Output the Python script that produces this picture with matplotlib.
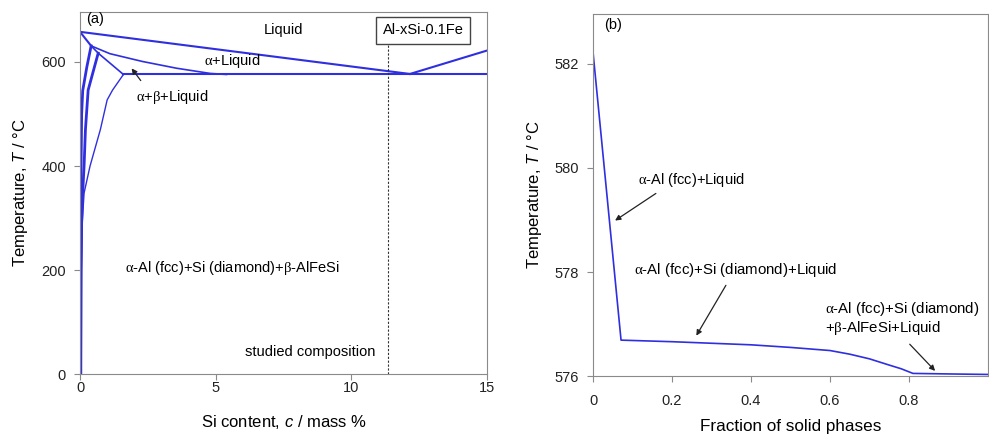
import matplotlib.pyplot as plt

plt.rcParams['font.family'] = ['Liberation Sans', 'DejaVu Sans']
plt.rcParams['mathtext.fontset'] = 'custom'
plt.rcParams['mathtext.rm'] = 'Liberation Serif'
plt.rcParams['mathtext.it'] = 'Liberation Sans:italic'
plt.rcParams['mathtext.bf'] = 'Liberation Sans:bold'

# (a) isopleth Al-xSi-0.1Fe
liq_x = [0, 12.16]
liq_T = [658, 577]
hyper_x = [12.16, 15]
hyper_T = [577, 622]
eut_x = [1.6, 15]
eut_T = [576, 576]
sol_x = [0, 0.41]
sol_T = [658, 631]
aL_x = [0.41, 1.1, 2.3, 3.56, 4.8, 5.4]
aL_T = [631, 616, 601, 588, 578, 576]
abL_x = [0.41, 0.67, 1.6]
abL_T = [631, 617, 576]
s1_x = [0.41, 0.25, 0.1, 0.06, 0.04, 0.03, 0.02]
s1_T = [631, 590, 545, 500, 400, 200, 0]
s2_x = [0.67, 0.3, 0.2, 0.15, 0.1, 0.06, 0.04, 0.03]
s2_T = [617, 546, 470, 400, 350, 290, 200, 0]
s3_x = [1.6, 1.2, 1.0, 0.75, 0.37, 0.15, 0.08, 0.05, 0.04]
s3_T = [576, 546, 527, 470, 400, 348, 290, 200, 0]
studied_x = 11.35

# (b) solidification path
frac = [0, 0.071, 0.2, 0.3, 0.4, 0.5, 0.6, 0.65, 0.7, 0.75, 0.78, 0.81, 0.9, 1.0]
temp = [582.23, 576.69, 576.66, 576.63, 576.6, 576.55, 576.49, 576.42,
        576.33, 576.21, 576.14, 576.05, 576.04, 576.03]

blue = '#2f2fe0'
grey = '#8a8a8a'
A = r'$\mathrm{\alpha}$'
B = r'$\mathrm{\beta}$'

fig = plt.figure(figsize=(9.89, 4.34), dpi=100)
ax1 = fig.add_axes([0.0809, 0.1382, 0.4115, 0.834])
ax2 = fig.add_axes([0.5996, 0.1336, 0.3994, 0.834])

for ax in (ax1, ax2):
    for s in ax.spines.values():
        s.set_color(grey)
    ax.tick_params(colors=grey, labelcolor='#222222', labelsize=10.5, length=4, pad=6)
ax1.tick_params(axis='x', pad=1)
ax2.tick_params(axis='x', pad=9)

# panel a
ax1.plot(liq_x, liq_T, color=blue, lw=1.5)
ax1.plot(hyper_x, hyper_T, color=blue, lw=1.5)
ax1.plot(eut_x, eut_T, color=blue, lw=1.5)
ax1.plot(sol_x, sol_T, color=blue, lw=1.5)
ax1.plot(aL_x, aL_T, color=blue, lw=1.2)
ax1.plot(abL_x, abL_T, color=blue, lw=1.2)
ax1.plot(s1_x, s1_T, color=blue, lw=2.0)
ax1.plot(s2_x, s2_T, color=blue, lw=2.0)
ax1.plot(s3_x, s3_T, color=blue, lw=1.0)
ax1.plot([studied_x, studied_x], [0, 633], color='#333333', lw=0.8, ls=(0, (2, 1.5)))

ax1.set_xlim(0, 15)
ax1.set_ylim(0, 696)
ax1.set_xticks([0, 5, 10, 15])
ax1.set_yticks([0, 200, 400, 600])
ax1.set_xlabel('Si content, $c$ / mass %', fontsize=12, labelpad=13)
ax1.set_ylabel('Temperature, $T$ / °C', fontsize=12, labelpad=8)

ax1.text(0.55, 683, '(a)', fontsize=10.5, ha='center', va='center')
ax1.text(7.5, 662, 'Liquid', fontsize=10.5, ha='center', va='center')
ax1.text(5.6, 602, A + '+Liquid', fontsize=10.5, ha='center', va='center')
ax1.text(3.4, 533, A + '+' + B + '+Liquid', fontsize=10.5, ha='center', va='center')
ax1.annotate('', xy=(1.84, 592), xytext=(2.3, 560),
             arrowprops=dict(arrowstyle='-|>', color='#222222', lw=0.9, mutation_scale=8))
ax1.text(5.6, 204, A + '-Al (fcc)+Si (diamond)+' + B + '-AlFeSi', fontsize=10.5,
         ha='center', va='center')
ax1.text(10.9, 42, 'studied composition', fontsize=10.5, ha='right', va='center')
ax1.text(12.65, 661, 'Al-xSi-0.1Fe', fontsize=10.5, ha='center', va='center',
         bbox=dict(boxstyle='square,pad=0.45', fc='white', ec='#444444', lw=1.0))

# panel b
ax2.plot(frac, temp, color=blue, lw=1.2)
ax2.set_xlim(0, 1.0)
ax2.set_ylim(576, 582.96)
ax2.set_xticks([0, 0.2, 0.4, 0.6, 0.8])
ax2.set_xticklabels(['0', '0.2', '0.4', '0.6', '0.8'])
ax2.set_yticks([576, 578, 580, 582])
ax2.set_xlabel('Fraction of solid phases', fontsize=12.3, labelpad=8)
ax2.set_ylabel('Temperature, $T$ / °C', fontsize=12, labelpad=8)

ax2.text(0.05, 582.75, '(b)', fontsize=10.5, ha='center', va='center')
ax2.text(0.25, 579.77, A + '-Al (fcc)+Liquid', fontsize=10.5, ha='center', va='center')
ax2.annotate('', xy=(0.05, 578.96), xytext=(0.165, 579.54),
             arrowprops=dict(arrowstyle='-|>', color='#222222', lw=0.9, mutation_scale=8))
ax2.text(0.36, 578.04, A + '-Al (fcc)+Si (diamond)+Liquid', fontsize=10.8,
         ha='center', va='center')
ax2.annotate('', xy=(0.258, 576.73), xytext=(0.34, 577.79),
             arrowprops=dict(arrowstyle='-|>', color='#222222', lw=0.9, mutation_scale=8))
ax2.text(0.587, 577.1, A + '-Al (fcc)+Si (diamond)\n+' + B + '-AlFeSi+Liquid',
         fontsize=10.8, ha='left', va='center', linespacing=1.1)
ax2.annotate('', xy=(0.871, 576.06), xytext=(0.797, 576.65),
             arrowprops=dict(arrowstyle='-|>', color='#222222', lw=0.9, mutation_scale=8))

fig.savefig('out.png', dpi=100)
